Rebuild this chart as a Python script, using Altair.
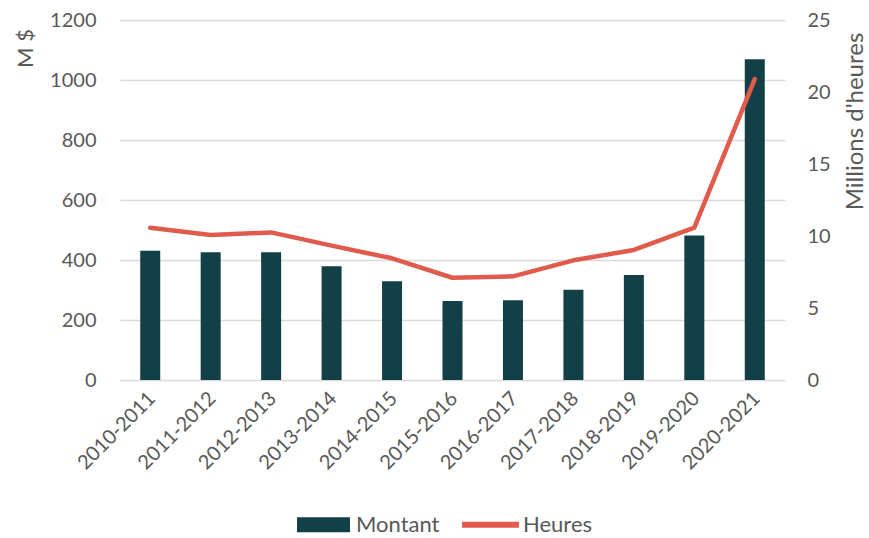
import altair as alt
import pandas as pd

periods = ["2010-2011", "2011-2012", "2012-2013", "2013-2014", "2014-2015", "2015-2016",
           "2016-2017", "2017-2018", "2018-2019", "2019-2020", "2020-2021"]
montant = [431, 426, 426, 379, 329, 263, 266, 301, 350, 482, 1069]
heures = [10.58, 10.07, 10.25, 9.33, 8.45, 7.10, 7.20, 8.31, 9.03, 10.58, 20.9]
series = ["Montant", "Heures"]
colors = ["#133f46", "#e15b4c"]
left_ticks = [0, 200, 400, 600, 800, 1000, 1200]
right_ticks = [0, 5, 10, 15, 20, 25]

FONT = "Lato"
GRAY = "#595959"

df = pd.DataFrame({"periode": periods, "montant": montant, "heures": heures})
legend_df = pd.DataFrame({"serie": series})

x = alt.X("periode:N", sort=periods,
          scale=alt.Scale(paddingInner=0, paddingOuter=0),
          axis=alt.Axis(title=None, labelAngle=-45, labelFontSize=20, labelPadding=8,
                        labelOffset=-5, grid=False, domain=False, ticks=False))

bars = alt.Chart(df).mark_bar(size=20, color=colors[0]).encode(
    x=x,
    y=alt.Y("montant:Q", scale=alt.Scale(domain=[0, 1200]),
            axis=alt.Axis(values=left_ticks, format="d", title="M $", titleAngle=-90,
                          titleX=-95, titleY=28, titleAlign="center", titleBaseline="middle",
                          titleFontSize=22, labelPadding=24, grid=True)),
)

line = alt.Chart(df).mark_line(color=colors[1], strokeWidth=4.5, strokeCap="round",
                               strokeJoin="round").encode(
    x=x,
    y=alt.Y("heures:Q", scale=alt.Scale(domain=[0, 25]),
            axis=alt.Axis(values=right_ticks, format="d", orient="right",
                          title="Millions d'heures",
                          titleAngle=-90, titleX=70, titleY=101, titleAlign="center",
                          titleBaseline="middle", titleFontSize=24, labelPadding=22,
                          labelAlign="left", grid=False)),
)

leg = dict(title=None, orient="none", legendX=190, legendY=491,
           direction="horizontal", columns=2, columnPadding=22,
           symbolOpacity=1, symbolSize=702, symbolStrokeWidth=0,
           labelFontSize=22, labelOffset=19, labelColor=GRAY, labelFont=FONT)

legend_layer = alt.Chart(legend_df).mark_point(filled=True, opacity=0).encode(
    color=alt.Color("serie:N", scale=alt.Scale(domain=series, range=colors),
                    legend=alt.Legend(**leg)),
    shape=alt.Shape("serie:N", scale=alt.Scale(domain=series,
                    range=["M-2,-0.566H2V0.566H-2Z", "M-2.15,-0.23H2.15V0.23H-2.15Z"]),
                    legend=alt.Legend(**leg)),
)

chart = alt.layer(bars, line, legend_layer).resolve_scale(y="independent").properties(
    width=665, height=360,
    autosize=alt.AutoSizeParams(type="none"),
    padding={"left": 120, "top": 20, "right": 84, "bottom": 158},
).configure_view(stroke=None).configure_axis(
    labelFont=FONT, titleFont=FONT, labelColor=GRAY, titleColor=GRAY,
    labelFontSize=20, titleFontWeight="normal", gridColor="#d9d9d9", gridWidth=1.5,
    domain=False, ticks=False,
)

chart.save("out.html", embed_options={"renderer": "svg", "actions": False})
